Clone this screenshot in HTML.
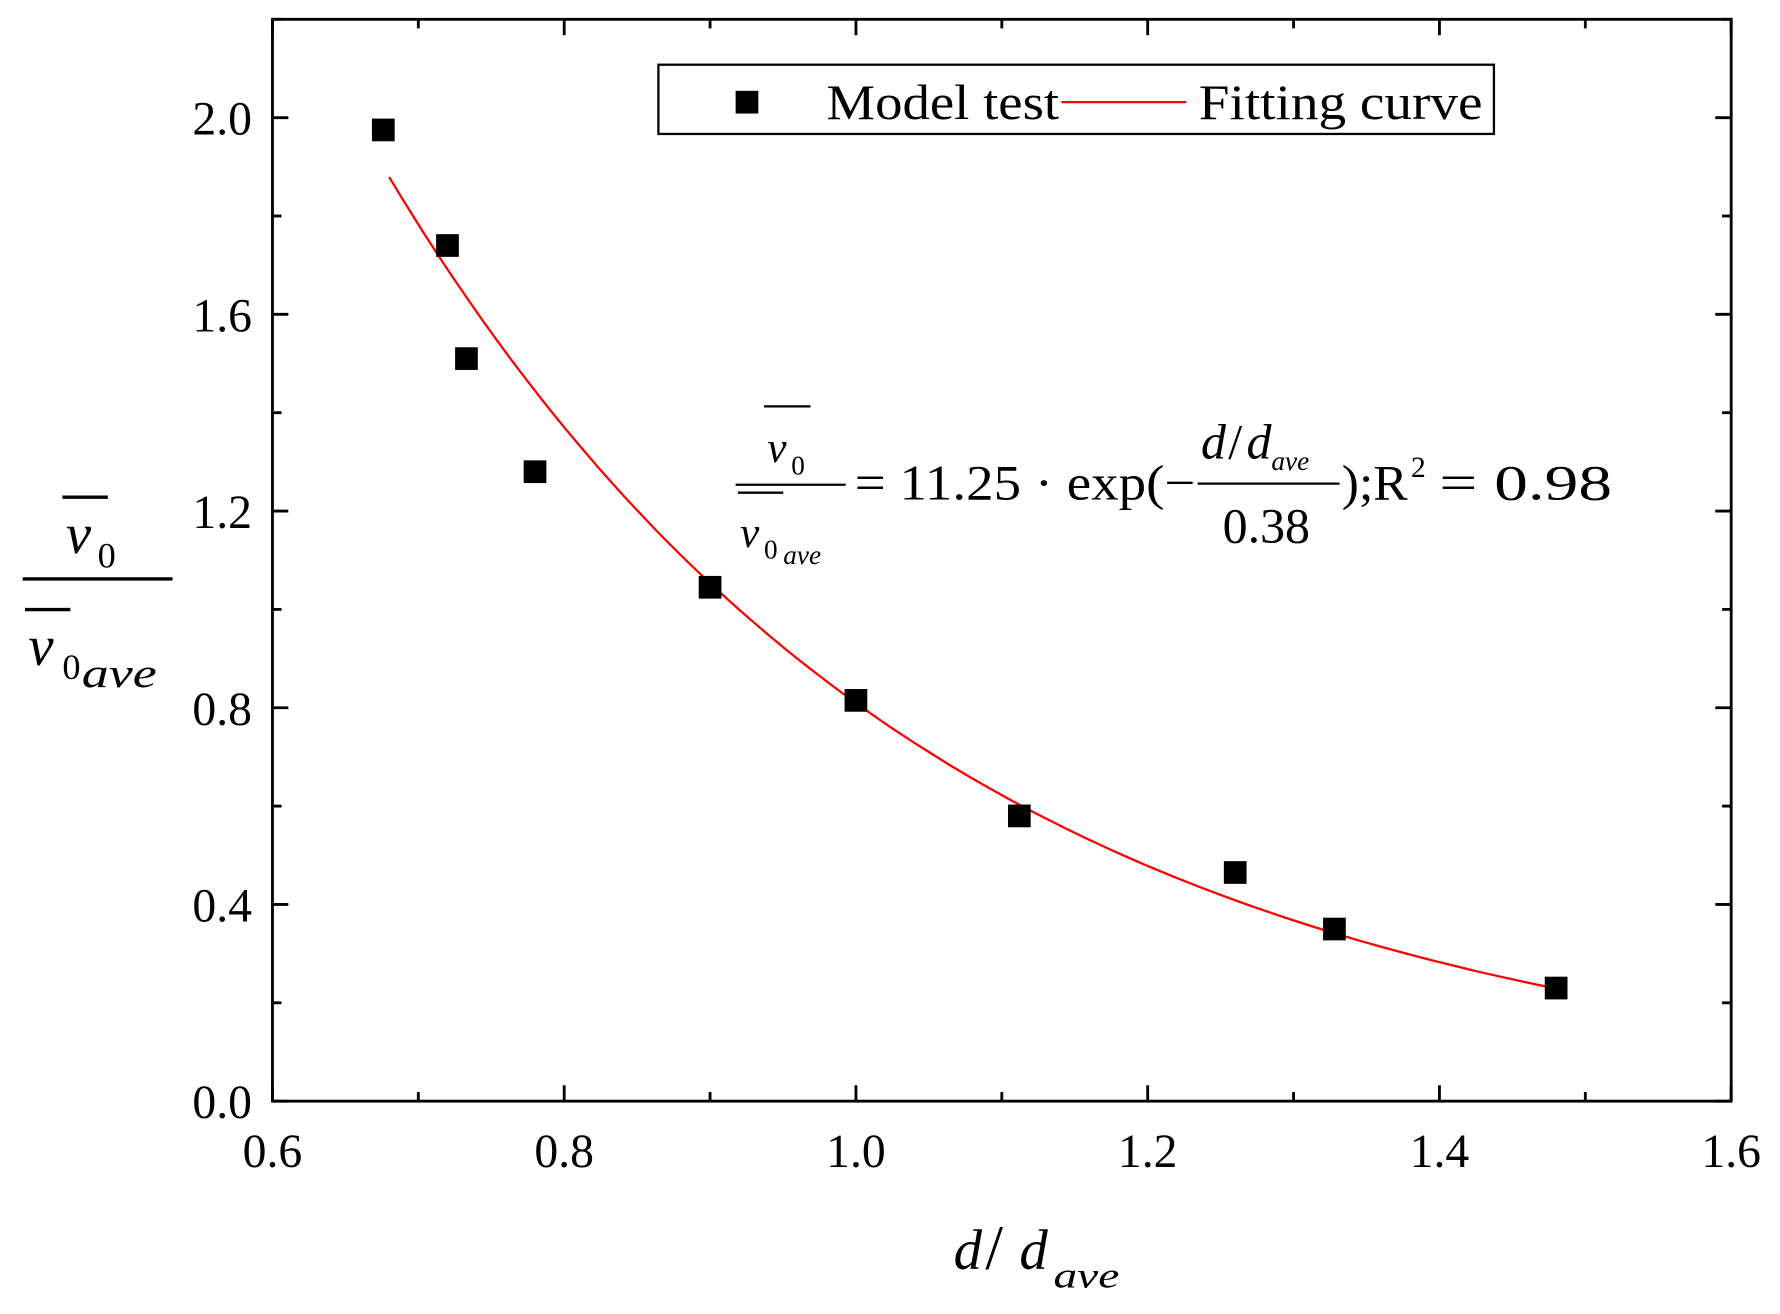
<!DOCTYPE html>
<html><head><meta charset="utf-8"><style>
html,body{margin:0;padding:0;background:#fff;}
svg{display:block;font-family:"Liberation Serif",serif;}
</style></head><body>
<svg id="chart" width="1780" height="1314" viewBox="0 0 1568 1157.5" xmlns="http://www.w3.org/2000/svg">
<rect width="1568" height="1157.5" fill="#fff"/>
<g id="axes"></g>
<g id="curve"></g>
<g id="points"></g>
<g>
<rect x="580" y="57" width="736" height="61" fill="#fff" stroke="#000" stroke-width="2"/>
<rect x="648" y="80" width="20" height="20" fill="#000"/>
<text x="728" y="105" font-size="44" textLength="205" lengthAdjust="spacingAndGlyphs">Model test</text>
<line x1="935" y1="90" x2="1045" y2="90" stroke="#f00" stroke-width="2"/>
<text x="1056" y="105" font-size="44" textLength="250" lengthAdjust="spacingAndGlyphs">Fitting curve</text>
</g>
<g font-size="44">
<line x1="673" y1="358" x2="714" y2="358" stroke="#000" stroke-width="2"/>
<text x="676" y="407" font-style="italic" font-size="38">v</text><text x="697" y="418" font-size="24">0</text>
<line x1="648" y1="427" x2="745" y2="427" stroke="#000" stroke-width="2"/>
<line x1="650" y1="434" x2="690" y2="434" stroke="#000" stroke-width="2"/>
<text x="652" y="482" font-style="italic" font-size="38">v</text><text x="673" y="492" font-size="24">0</text><text x="690" y="497" font-style="italic" font-size="24">ave</text>
<text x="753" y="440" textLength="300" lengthAdjust="spacingAndGlyphs">= 11.25 · exp(−</text>
<text x="1058" y="404" font-style="italic">d</text><text x="1082" y="404">/</text><text x="1098" y="404" font-style="italic">d</text><text x="1120" y="414" font-style="italic" font-size="24">ave</text>
<line x1="1055" y1="426" x2="1180" y2="426" stroke="#000" stroke-width="2"/>
<text x="1077" y="478">0.38</text>
<text x="1182" y="440" textLength="58" lengthAdjust="spacingAndGlyphs">);R</text><text x="1243" y="420" font-size="26">2</text><text x="1268" y="440" textLength="152" lengthAdjust="spacingAndGlyphs">= 0.98</text>
</g>
<g>
<line x1="55" y1="438" x2="95" y2="438" stroke="#000" stroke-width="3"/>
<text x="58" y="487" font-style="italic" font-size="50">v</text><text x="86" y="500" font-size="32">0</text>
<line x1="20" y1="510" x2="152" y2="510" stroke="#000" stroke-width="3"/>
<line x1="22" y1="537" x2="62" y2="537" stroke="#000" stroke-width="3"/>
<text x="25" y="586" font-style="italic" font-size="50">v</text><text x="55" y="598" font-size="32">0</text><text x="72" y="605" font-style="italic" font-size="36" textLength="66" lengthAdjust="spacingAndGlyphs">ave</text>
</g>
<g>
<text x="840" y="1118" font-style="italic" font-size="50">d</text><text x="868" y="1118" font-size="56">/</text><text x="898" y="1118" font-style="italic" font-size="50">d</text><text x="928" y="1134" font-style="italic" font-size="32" textLength="58" lengthAdjust="spacingAndGlyphs">ave</text>
</g>
</svg>
<script>
const xs=[0.676,0.72,0.733,0.78,0.9,1.0,1.112,1.26,1.328,1.48];
const ys=[1.975,1.74,1.51,1.28,1.045,0.815,0.58,0.465,0.35,0.23];
const xTicks=["0.6","0.8","1.0","1.2","1.4","1.6"];
const yTicks=["0.0","0.4","0.8","1.2","1.6","2.0"];
const fitA=11.25, fitB=0.38, fitX0=0.68, fitX1=1.48;
const L=240,R=1525,T=17,B=970,X0=0.6,X1=1.6,Y0=0,Y1=2.2;
const sx=v=>L+(v-X0)/(X1-X0)*(R-L);
const sy=v=>B-(v-Y0)/(Y1-Y0)*(B-T);
const NS="http://www.w3.org/2000/svg";
function mk(t,a,p){const e=document.createElementNS(NS,t);for(const k in a)e.setAttribute(k,a[k]);p.appendChild(e);return e;}
const ax=document.getElementById('axes');
const fr=mk('rect',{x:L,y:T,width:R-L,height:B-T,fill:'none',stroke:'#000','stroke-width':2.5},ax);


for(let i=0;i<=10;i++){const v=X0+i*0.1,x=sx(v),len=i%2?8:14;
 mk('line',{x1:x,y1:B,x2:x,y2:B-len,stroke:'#000','stroke-width':2.5},ax);
 mk('line',{x1:x,y1:T,x2:x,y2:T+len,stroke:'#000','stroke-width':2.5},ax);}
xTicks.forEach(s=>{const t=mk('text',{x:sx(parseFloat(s)),y:1028,'font-size':42,'text-anchor':'middle'},ax);t.textContent=s;
 
 });
for(let v=0;v<=2.2001;v+=0.2){const y=sy(v),major=Math.round(v*10)%4==0,len=major?14:8;
 mk('line',{x1:L,y1:y,x2:L+len,y2:y,stroke:'#000','stroke-width':2.5},ax);
 mk('line',{x1:R,y1:y,x2:R-len,y2:y,stroke:'#000','stroke-width':2.5},ax);}
yTicks.forEach(s=>{const t=mk('text',{x:222,y:sy(parseFloat(s))+15,'font-size':42,'text-anchor':'end'},ax);t.textContent=s;
 
 });
let d='';for(let i=0;i<=100;i++){const x=fitX0+(fitX1-fitX0)*i/100,y=fitA*Math.exp(-x/fitB);d+=(i?'L':'M')+sx(x).toFixed(1)+','+sy(y).toFixed(1);}
const c=mk('path',{d:d,fill:'none',stroke:'#f00','stroke-width':2},document.getElementById('curve'));


const pg=document.getElementById('points');
xs.forEach((x,i)=>{const r=mk('rect',{x:sx(x)-10,y:sy(ys[i])-10,width:20,height:20,fill:'#000'},pg);
 
 });
</script>
</body></html>
